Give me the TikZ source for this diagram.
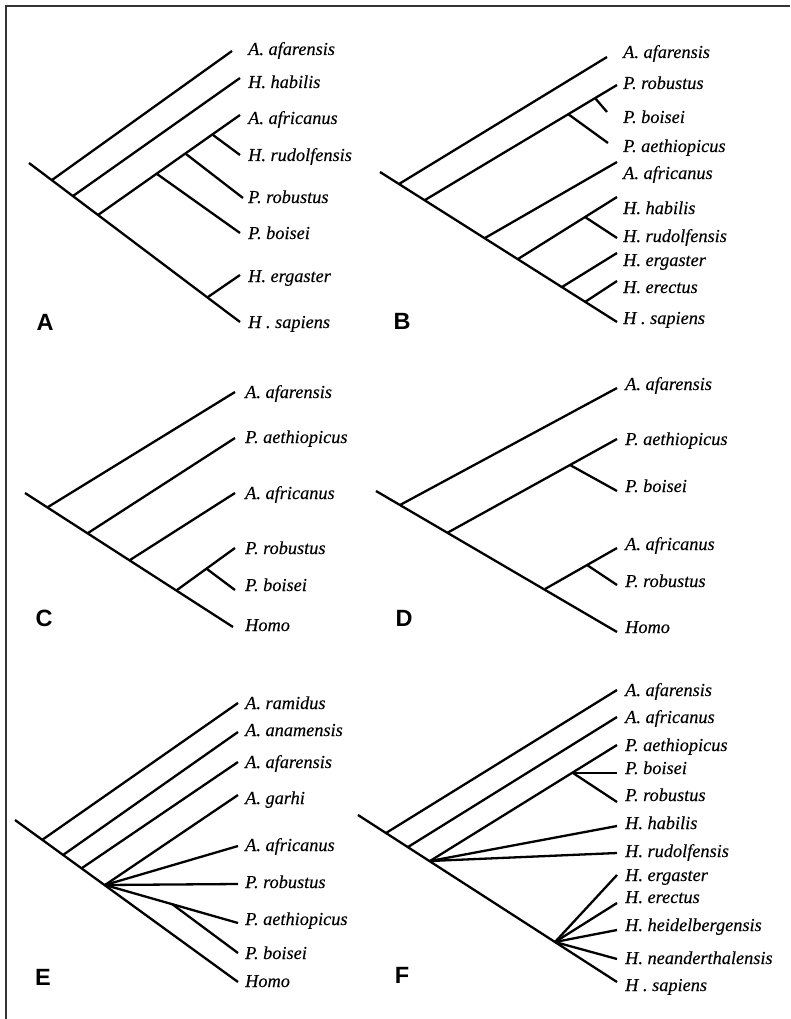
\documentclass[tikz,border=0pt]{standalone}
\usepackage{fontspec}
\setmainfont{Liberation Serif}
\newfontfamily\panelfont{Liberation Sans}
\newfontfamily\lblfont{Liberation Serif}[FakeBold=0.25]
\begin{document}
\begin{tikzpicture}[x=1pt,y=-1pt,
  br/.style={line width=2.3pt, line cap=butt, line join=round},
  lbl/.style={anchor=west, inner sep=0pt, font=\lblfont\fontsize{18.3}{18.3}\selectfont\itshape, text height=12pt, text depth=0pt},
  plab/.style={anchor=center, inner sep=0pt, font=\panelfont\bfseries\fontsize{23.5}{23.5}\selectfont, text height=17pt, text depth=0pt},
  frame/.style={line width=1.8pt, draw=black!80}]
\useasboundingbox (0,0) rectangle (790,1019);
% frame
\coordinate (fTR) at (790,6);
\coordinate (fTL) at (6,6);
\coordinate (fBL) at (6,1019);
\draw[frame] (fTR) -- (fTL) -- (fBL);

% ================= Panel A =================
\coordinate (aR) at (29,163);
\coordinate (a1) at (52,180);
\coordinate (a2) at (73,196);
\coordinate (a3) at (98,215);
\coordinate (a4) at (208,297);
\coordinate (aT1) at (232,51);
\coordinate (aT2) at (240,78);
\coordinate (aT3) at (240,115);
\coordinate (a5) at (157,174);
\coordinate (a6) at (186,154);
\coordinate (a7) at (213,135);
\coordinate (aT4) at (240,155);
\coordinate (aT5) at (243,198);
\coordinate (aT6) at (240,233);
\coordinate (aT7) at (240,275);
\coordinate (aT8) at (240,322);
\draw[br] (aR) -- (aT8);
\draw[br] (a1) -- (aT1);
\draw[br] (a2) -- (aT2);
\draw[br] (a3) -- (aT3);
\draw[br] (a7) -- (aT4);
\draw[br] (a6) -- (aT5);
\draw[br] (a5) -- (aT6);
\draw[br] (a4) -- (aT7);
\node[lbl] (aL1) at (248,49) {A. afarensis};
\node[lbl] (aL2) at (248,82) {H. habilis};
\node[lbl] (aL3) at (248,118) {A. africanus};
\node[lbl] (aL4) at (248,155) {H. rudolfensis};
\node[lbl] (aL5) at (248,197) {P. robustus};
\node[lbl] (aL6) at (248,233) {P. boisei};
\node[lbl] (aL7) at (248,276) {H. ergaster};
\node[lbl] (aL8) at (248,322) {H . sapiens};
\node[plab] (aP) at (45,322) {A};

% ================= Panel B =================
\coordinate (bR) at (380,172);
\coordinate (b1) at (399,184);
\coordinate (b2) at (425,200);
\coordinate (b3) at (485,238);
\coordinate (b4) at (518,259);
\coordinate (b5) at (562,287);
\coordinate (b6) at (585,302);
\coordinate (b7) at (568,114);
\coordinate (b8) at (595,98);
\coordinate (b9) at (585,217);
\coordinate (bT1) at (607,57);
\coordinate (bT2) at (617,85);
\coordinate (bT3) at (607,112);
\coordinate (bT4) at (608,143);
\coordinate (bT5) at (617,162);
\coordinate (bT6) at (617,197);
\coordinate (bT7) at (617,238);
\coordinate (bT8) at (617,253);
\coordinate (bT9) at (617,281);
\coordinate (bT10) at (617,322);
\draw[br] (bR) -- (bT10);
\draw[br] (b1) -- (bT1);
\draw[br] (b2) -- (bT2);
\draw[br] (b8) -- (bT3);
\draw[br] (b7) -- (bT4);
\draw[br] (b3) -- (bT5);
\draw[br] (b4) -- (bT6);
\draw[br] (b9) -- (bT7);
\draw[br] (b5) -- (bT8);
\draw[br] (b6) -- (bT9);
\node[lbl] (bL1) at (623,52) {A. afarensis};
\node[lbl] (bL2) at (623,83) {P. robustus};
\node[lbl] (bL3) at (623,117) {P. boisei};
\node[lbl] (bL4) at (623,146) {P. aethiopicus};
\node[lbl] (bL5) at (623,173) {A. africanus};
\node[lbl] (bL6) at (623,208) {H. habilis};
\node[lbl] (bL7) at (623,236) {H. rudolfensis};
\node[lbl] (bL8) at (623,260) {H. ergaster};
\node[lbl] (bL9) at (623,287) {H. erectus};
\node[lbl] (bL10) at (623,318) {H . sapiens};
\node[plab] (bP) at (402,321) {B};

% ================= Panel C =================
\coordinate (cR) at (25,493);
\coordinate (c1) at (48,507);
\coordinate (c2) at (88,533);
\coordinate (c3) at (130,560);
\coordinate (c4) at (177,590);
\coordinate (c5) at (207,569);
\coordinate (cT1) at (235,392);
\coordinate (cT2) at (235,438);
\coordinate (cT3) at (235,493);
\coordinate (cT4) at (235,548);
\coordinate (cT5) at (235,590);
\coordinate (cT6) at (233,627);
\draw[br] (cR) -- (cT6);
\draw[br] (c1) -- (cT1);
\draw[br] (c2) -- (cT2);
\draw[br] (c3) -- (cT3);
\draw[br] (c4) -- (cT4);
\draw[br] (c5) -- (cT5);
\node[lbl] (cL1) at (245,392) {A. afarensis};
\node[lbl] (cL2) at (245,437) {P. aethiopicus};
\node[lbl] (cL3) at (245,493) {A. africanus};
\node[lbl] (cL4) at (245,548) {P. robustus};
\node[lbl] (cL5) at (245,585) {P. boisei};
\node[lbl] (cL6) at (245,625) {Homo};
\node[plab] (cP) at (44,618) {C};

% ================= Panel D =================
\coordinate (dR) at (376,491);
\coordinate (d1) at (400,505);
\coordinate (d2) at (447,533);
\coordinate (d3) at (545,589);
\coordinate (d4) at (570,465);
\coordinate (d5) at (587,565);
\coordinate (dT1) at (617,388);
\coordinate (dT2) at (617,439);
\coordinate (dT3) at (617,491);
\coordinate (dT4) at (617,548);
\coordinate (dT5) at (617,585);
\coordinate (dT6) at (617,632);
\draw[br] (dR) -- (dT6);
\draw[br] (d1) -- (dT1);
\draw[br] (d2) -- (dT2);
\draw[br] (d4) -- (dT3);
\draw[br] (d3) -- (dT4);
\draw[br] (d5) -- (dT5);
\node[lbl] (dL1) at (625,384) {A. afarensis};
\node[lbl] (dL2) at (625,439) {P. aethiopicus};
\node[lbl] (dL3) at (625,486) {P. boisei};
\node[lbl] (dL4) at (625,544) {A. africanus};
\node[lbl] (dL5) at (625,581) {P. robustus};
\node[lbl] (dL6) at (625,627) {Homo};
\node[plab] (dP) at (404,618) {D};

% ================= Panel E =================
\coordinate (eR) at (15,820);
\coordinate (e1) at (42,840);
\coordinate (e2) at (63,855);
\coordinate (e3) at (82,868);
\coordinate (e4) at (105,885);
\coordinate (e5) at (172,904);
\coordinate (eT1) at (238,703);
\coordinate (eT2) at (238,732);
\coordinate (eT3) at (238,762);
\coordinate (eT4) at (238,795);
\coordinate (eT5) at (238,846);
\coordinate (eT6) at (238,884);
\coordinate (eT7) at (238,923);
\coordinate (eT8) at (238,953);
\coordinate (eT9) at (238,982);
\draw[br] (eR) -- (eT9);
\draw[br] (e1) -- (eT1);
\draw[br] (e2) -- (eT2);
\draw[br] (e3) -- (eT3);
\draw[br] (e4) -- (eT4);
\draw[br] (e4) -- (eT5);
\draw[br] (e4) -- (eT6);
\draw[br] (e4) -- (eT7);
\draw[br] (e5) -- (eT8);
\node[lbl] (eL1) at (245,703) {A. ramidus};
\node[lbl] (eL2) at (245,730) {A. anamensis};
\node[lbl] (eL3) at (245,762) {A. afarensis};
\node[lbl] (eL4) at (245,798) {A. garhi};
\node[lbl] (eL5) at (245,845) {A. africanus};
\node[lbl] (eL6) at (245,882) {P. robustus};
\node[lbl] (eL7) at (245,919) {P. aethiopicus};
\node[lbl] (eL8) at (245,953) {P. boisei};
\node[lbl] (eL9) at (245,981) {Homo};
\node[plab] (eP) at (43,977) {E};

% ================= Panel F =================
\coordinate (fR) at (358,815);
\coordinate (f1) at (386,833);
\coordinate (f2) at (408,847);
\coordinate (f3) at (430,861);
\coordinate (f4) at (555,942);
\coordinate (f5) at (573,773);
\coordinate (fT1) at (617,690);
\coordinate (fT2) at (617,717);
\coordinate (fT3) at (617,745);
\coordinate (fT4) at (617,773);
\coordinate (fT5) at (617,802);
\coordinate (fT6) at (617,826);
\coordinate (fT7) at (617,853);
\coordinate (fT8) at (617,875);
\coordinate (fT9) at (617,903);
\coordinate (fT10) at (617,930);
\coordinate (fT11) at (617,959);
\coordinate (fT12) at (617,982);
\draw[br] (fR) -- (fT12);
\draw[br] (f1) -- (fT1);
\draw[br] (f2) -- (fT2);
\draw[br] (f3) -- (fT3);
\draw[br] (f5) -- (fT4);
\draw[br] (f5) -- (fT5);
\draw[br] (f3) -- (fT6);
\draw[br] (f3) -- (fT7);
\draw[br] (f4) -- (fT8);
\draw[br] (f4) -- (fT9);
\draw[br] (f4) -- (fT10);
\draw[br] (f4) -- (fT11);
\node[lbl] (fL1) at (625,690) {A. afarensis};
\node[lbl] (fL2) at (625,717) {A. africanus};
\node[lbl] (fL3) at (625,745) {P. aethiopicus};
\node[lbl] (fL4) at (625,768) {P. boisei};
\node[lbl] (fL5) at (625,795) {P. robustus};
\node[lbl] (fL6) at (625,823) {H. habilis};
\node[lbl] (fL7) at (625,851) {H. rudolfensis};
\node[lbl] (fL8) at (625,875) {H. ergaster};
\node[lbl] (fL9) at (625,897) {H. erectus};
\node[lbl] (fL10) at (625,925) {H. heidelbergensis};
\node[lbl] (fL11) at (625,958) {H. neanderthalensis};
\node[lbl] (fL12) at (625,985) {H . sapiens};
\node[plab] (fP) at (402,975) {F};
\end{tikzpicture}
\end{document}
